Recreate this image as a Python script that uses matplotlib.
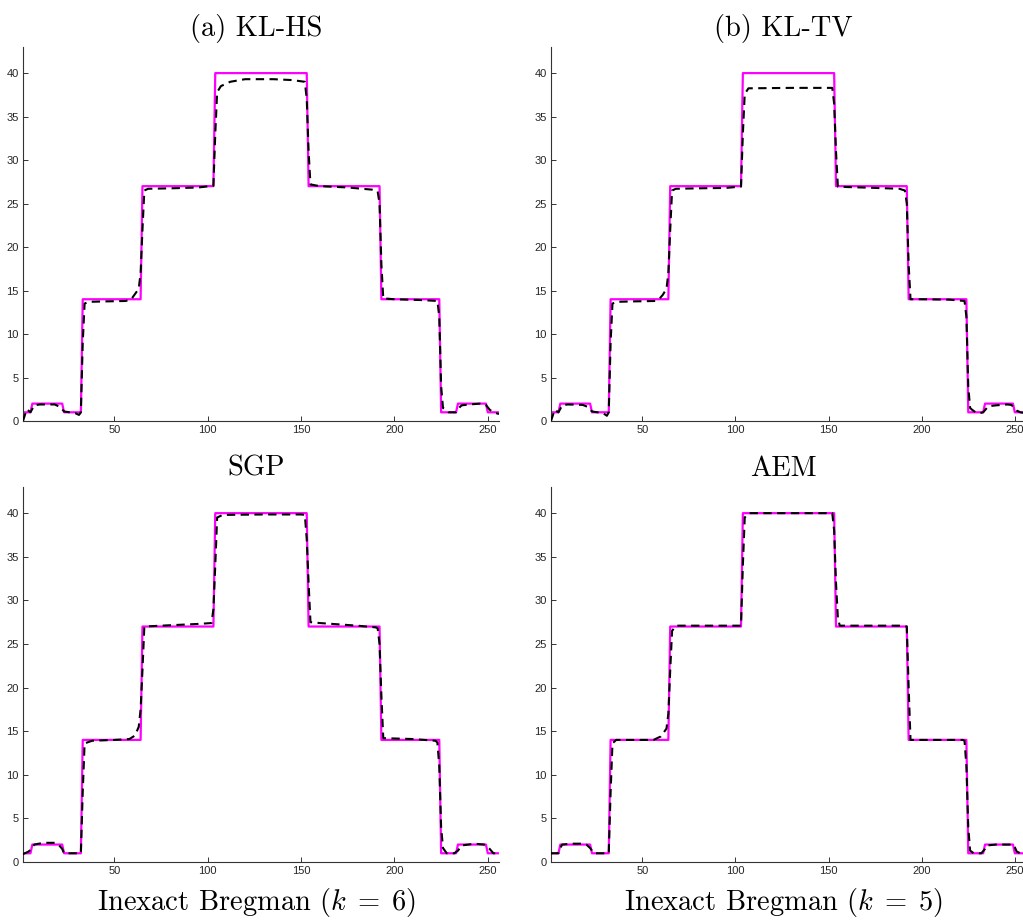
import numpy as np
import matplotlib
matplotlib.use("Agg")
import matplotlib.pyplot as plt

plt.rcParams['mathtext.fontset'] = 'cm'

# ---- true signal: step levels and segment lengths (samples 1..256) ----
levels = [1, 2, 1, 14, 27, 40, 27, 14, 1, 2, 1]
seg_lengths = [5, 17, 10, 32, 39, 50, 39, 32, 9, 16, 7]

# ---- reconstructions (dashed) ----
klhs_x = [1, 3, 5, 7, 10, 18, 21, 23, 26, 29, 31, 32, 33, 34, 36, 45, 56, 59, 61, 63, 64, 65, 66, 68, 80, 95, 103,
          104, 105, 107, 112, 120, 135, 145, 152, 153, 154, 155, 160, 175, 188, 191, 192, 193, 194, 200, 215, 223, 224,
          225, 226, 227, 229, 231, 233, 235, 236, 240, 246, 248, 249, 251, 253, 256]
klhs_y = [0.0, 1.35, 1.0, 1.8, 1.9, 1.9, 1.6, 1.1, 1.0, 0.9, 0.7, 1.0, 9.0, 13.5, 13.7, 13.75, 13.8, 14.0, 14.6, 15.2, 17.0, 22.0, 26.5, 26.7, 26.75, 26.85, 27.05,
          33.0, 37.8, 38.5, 39.0, 39.3, 39.3, 39.2, 39.0, 37.0, 31.0, 27.2, 27.0, 26.85, 26.6, 26.4, 25.0, 18.0, 14.1, 14.0, 13.9, 13.8, 12.0,
          4.0, 1.5, 1.4, 1.0, 1.0, 1.0, 1.6, 1.8, 1.9, 2.0, 1.95, 1.85, 1.3, 1.0, 0.8]

kltv_x = [1, 3, 5, 7, 10, 18, 21, 23, 26, 29, 31, 32, 33, 34, 36, 45, 57, 59, 61, 63, 64, 65, 66, 68, 80, 95, 103,
          104, 105, 107, 130, 152, 153, 154, 155, 160, 175, 188, 191, 192, 193, 194, 200, 215, 223, 224,
          225, 226, 227, 229, 231, 233, 235, 236, 240, 246, 248, 249, 251, 253, 256]
kltv_y = [0.0, 1.3, 1.0, 1.8, 1.9, 1.85, 1.6, 1.1, 1.0, 0.9, 0.6, 1.0, 9.0, 13.5, 13.7, 13.75, 13.8, 14.0, 14.5, 15.2, 17.0, 22.0, 26.5, 26.7, 26.75, 26.8, 26.95,
          33.0, 37.6, 38.25, 38.3, 38.3, 36.5, 31.0, 26.95, 26.9, 26.8, 26.7, 26.5, 25.0, 18.0, 14.0, 14.0, 13.95, 13.8, 12.0,
          4.0, 1.5, 1.3, 1.0, 0.9, 1.0, 1.5, 1.7, 1.8, 1.9, 1.85, 1.7, 1.2, 1.0, 0.9]

sgp_x = [1, 4, 6, 7, 12, 18, 20, 22, 23, 26, 32, 33, 34, 38, 50, 58, 61, 63, 64, 65, 66, 75, 95, 102, 103,
         104, 105, 108, 130, 150, 152, 153, 154, 155, 160, 180, 190, 191, 192, 193, 194, 210, 222, 223, 224,
         225, 226, 228, 232, 234, 236, 243, 248, 249, 251, 253, 256]
sgp_y = [0.9, 1.2, 1.6, 2.0, 2.2, 2.2, 2.0, 1.5, 1.0, 1.0, 1.0, 8.0, 13.6, 13.9, 14.0, 14.1, 14.5, 15.5, 17.5, 22.0, 27.0, 27.1, 27.3, 27.4, 29.0,
         34.0, 39.5, 39.8, 39.85, 39.85, 39.8, 37.0, 32.0, 27.5, 27.4, 27.1, 26.9, 26.8, 25.0, 19.0, 14.2, 14.1, 13.9, 13.7, 11.0,
         4.0, 1.6, 1.0, 1.0, 1.3, 1.9, 2.1, 2.0, 1.9, 1.5, 1.0, 1.0]

aem_x = [1, 5, 6, 7, 12, 18, 20, 22, 24, 32, 33, 34, 36, 56, 60, 63, 64, 65, 66, 68, 103,
         104, 105, 107, 152, 153, 154, 155, 156, 190, 192, 193, 194, 222, 223, 224,
         225, 226, 228, 232, 234, 235, 240, 249, 250, 251, 253, 256]
aem_y = [1.0, 1.0, 1.6, 2.0, 2.1, 2.1, 2.0, 1.6, 1.0, 1.0, 8.0, 13.6, 14.0, 14.0, 14.4, 15.3, 17.0, 22.0, 26.5, 27.1, 27.1,
         34.0, 39.5, 40.0, 40.0, 38.0, 32.0, 28.0, 27.1, 27.1, 27.0, 20.0, 14.0, 14.0, 13.9, 11.0,
         4.0, 1.3, 1.0, 1.0, 1.5, 1.9, 2.0, 2.0, 1.7, 1.2, 1.0, 1.0]

titles = ["(a) KL-HS", "(b) KL-TV", "SGP", "AEM"]
xlabels = [None, None, r"Inexact Bregman ($k\;=\;6$)", r"Inexact Bregman ($k\;=\;5$)"]
xticks = [50, 100, 150, 200, 250]
yticks = [0, 5, 10, 15, 20, 25, 30, 35, 40]

recons = [(klhs_x, klhs_y), (kltv_x, kltv_y), (sgp_x, sgp_y), (aem_x, aem_y)]

W, H = 1023, 923
fig = plt.figure(figsize=(W / 100, H / 100), dpi=100)

# axes boxes in pixels: (left, top, right, bottom)
boxes = [(23, 47, 499, 421), (551, 47, 1026, 421), (23, 487, 499, 862), (551, 487, 1026, 862)]

x = np.arange(1, 257)
truth = np.repeat(levels, seg_lengths)

for i, (l, t, r, b) in enumerate(boxes):
    ax = fig.add_axes([l / W, 1 - b / H, (r - l) / W, (b - t) / H])
    ax.plot(x, truth, color='#ff00ff', lw=1.6, zorder=2)
    rx, ry = recons[i]
    ax.plot(rx, ry, color='black', lw=1.5, dashes=(4, 2.6), zorder=3)
    ax.set_xlim(1, 256)
    ax.set_ylim(0, 43)
    ax.set_xticks(xticks)
    ax.set_yticks(yticks)
    for s in ['top', 'right']:
        ax.spines[s].set_visible(False)
    for s in ['left', 'bottom']:
        ax.spines[s].set_color('#333333')
        ax.spines[s].set_linewidth(0.8)
    ax.tick_params(direction='in', length=3.5, width=0.7, color='#333333',
                   labelcolor='#262626', pad=3)
    for lab in ax.get_xticklabels() + ax.get_yticklabels():
        lab.set_fontfamily('Liberation Sans')
        lab.set_fontsize(8)
    ax.set_title(titles[i], family='cmr10', fontsize=20.5, pad=8, x=0.49)
    if xlabels[i]:
        ax.set_xlabel(xlabels[i], family='cmr10', fontsize=20.5, labelpad=7,
                      x=0.49, ha='center')

fig.savefig('out.png', dpi=100)
